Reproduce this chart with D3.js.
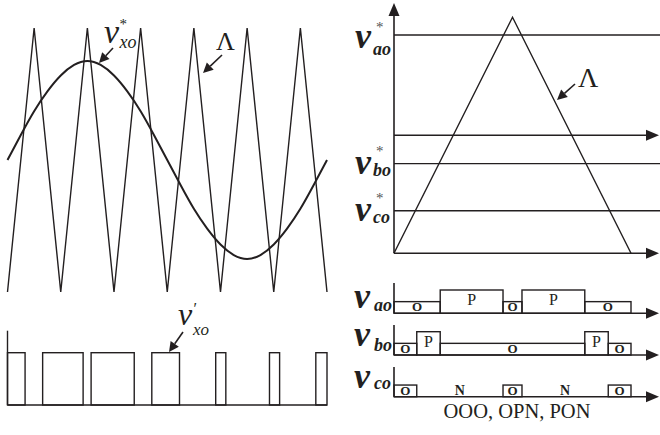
<!DOCTYPE html>
<html>
<head>
<meta charset="utf-8">
<script src="https://cdn.jsdelivr.net/npm/d3@7"></script>
<style>
  body { margin: 0; background: #fff; }
  text { font-family: "Liberation Serif", "Times New Roman", serif; fill: #231f20; }
</style>
</head>
<body>
<svg width="660" height="435"></svg>
<script>
// ---- left: carrier vs. reference (time in carrier periods, per-unit values)
const carrierT = [0, 0.5, 1, 1.5, 2, 2.5, 3, 3.5, 4, 4.5, 5, 5.5, 6];
const carrierV = [-1, 1, -1, 1, -1, 1, -1, 1, -1, 1, -1, 1, -1];
const refT = [0, 0.25, 0.5, 0.75, 1, 1.25, 1.5, 1.75, 2, 2.25, 2.5, 2.75, 3,
              3.25, 3.5, 3.75, 4, 4.25, 4.5, 4.75, 5, 5.25, 5.5, 5.75, 6];
const refV = [0, 0.19, 0.37, 0.52, 0.64, 0.72, 0.75, 0.72, 0.64, 0.52, 0.37, 0.19, 0,
              -0.19, -0.37, -0.52, -0.64, -0.72, -0.75, -0.72, -0.64, -0.52, -0.37, -0.19, 0];
// switched output pulses
const pulseOn = [0, 0.66, 1.57, 2.71, 3.91, 4.92, 5.79];
const pulseOff = [0.33, 1.42, 2.38, 3.23, 4.10, 5.11, 6.0];

// ---- right: one carrier period, three phase references
const triT = [0, 0.5, 1];
const triV = [0, 1, 0];
const refNames = ["ao", "bo", "co"];
const refLevels = [0.925, 0.38, 0.18];
const midLevel = 0.5;
const aEdges = [0, 0.195, 0.46, 0.54, 0.805, 1];
const aStates = ["O", "P", "O", "P", "O"];
const bEdges = [0, 0.096, 0.195, 0.805, 0.904, 1];
const bStates = ["O", "P", "O", "P", "O"];
const cEdges = [0, 0.096, 0.46, 0.54, 0.904, 1];
const cStates = ["O", "N", "O", "N", "O"];
const caption = "OOO, OPN, PON";

const ink = "#231f20";
const svg = d3.select("svg");

//scales
const xL = d3.scaleLinear().domain([0, 6]).range([7.5, 327]);
const yL = d3.scaleLinear().domain([-1, 1]).range([292, 28]);
const yP = d3.scaleLinear().domain([0, 1]).range([405, 352.7]);
const xR = d3.scaleLinear().domain([0, 1]).range([394, 631]);
const yR = d3.scaleLinear().domain([0, 1]).range([253.3, 17.3]);
const stateLevel = { N: 0, O: 1, P: 2 };
const yState = d3.scaleLinear().domain([0, 2]).range([0, -23.3]);

function arrowRight(g, tipX, y) {
    g.append("path")
        .attr("d", `M${tipX},${y}L${tipX - 13},${y - 5.5}L${tipX - 13},${y + 5.5}Z`)
        .attr("fill", ink);
}
function pointer(g, x1, y1, x2, y2) {
    // short arrow pointing from (x1,y1) to (x2,y2)
    const a = Math.atan2(y2 - y1, x2 - x1);
    const L = 10, W = 5;
    const bx = x2 - L * Math.cos(a), by = y2 - L * Math.sin(a);
    g.append("line").attr("x1", x1).attr("y1", y1).attr("x2", bx).attr("y2", by)
        .attr("stroke", ink).attr("stroke-width", 1.6);
    g.append("path")
        .attr("d", `M${x2},${y2}L${bx - W * Math.sin(a)},${by + W * Math.cos(a)}L${bx + W * Math.sin(a)},${by - W * Math.cos(a)}Z`)
        .attr("fill", ink);
}
// v with a superscript mark and a subscript, as one text element
function symbol(g, o) {
    const t = g.append("text").attr("font-style", "italic")
        .attr("font-weight", o.bold ? "bold" : "normal");
    t.append("tspan").attr("x", o.x).attr("y", o.y).attr("font-size", o.size).text("v");
    if (o.sup) {
        t.append("tspan").attr("x", o.supX).attr("y", o.supY)
            .attr("font-size", o.supSize).attr("font-style", "normal")
            .attr("font-weight", "normal").attr("fill", o.supFill || ink).text(o.sup);
    }
    t.append("tspan").attr("x", o.subX).attr("y", o.subY).attr("font-size", o.subSize).text(o.sub);
}

// ===== left top: triangle carrier + sine reference
const left = svg.append("g");
const carrierLine = d3.line().x((d, i) => xL(carrierT[i])).y((d) => yL(d));
left.append("path")
    .attr("d", carrierLine(carrierV))
    .attr("fill", "none").attr("stroke", ink).attr("stroke-width", 1.4);

const refLine = d3.line().x((d, i) => xL(refT[i])).y((d) => yL(d)).curve(d3.curveNatural);
left.append("path")
    .attr("d", refLine(refV))
    .attr("fill", "none").attr("stroke", ink).attr("stroke-width", 2);

symbol(left, { x: 104, y: 43, size: 34, sup: "*", supX: 119.5, supY: 29, supSize: 15,
               sub: "xo", subX: 119.5, subY: 48, subSize: 18 });
pointer(left, 113, 48, 99, 63);

left.append("text").attr("x", 216).attr("y", 50).attr("font-size", 26).text("Λ");
pointer(left, 222, 55, 203, 73);

// ===== left bottom: pulse train
const pulse = svg.append("g");
pulse.append("line").attr("x1", xL(0)).attr("x2", xL(0))
    .attr("y1", 330.7).attr("y2", yP(0)).attr("stroke", ink).attr("stroke-width", 1.4);
pulse.append("line").attr("x1", xL(0)).attr("x2", xL(6))
    .attr("y1", yP(0)).attr("y2", yP(0)).attr("stroke", ink).attr("stroke-width", 1.4);
pulse.selectAll(".pulse")
    .data(pulseOn)
    .enter()
    .append("rect")
    .attr("class", "pulse")
    .attr("x", (d) => xL(d))
    .attr("width", (d, i) => xL(pulseOff[i]) - xL(d))
    .attr("y", yP(1))
    .attr("height", yP(0) - yP(1))
    .attr("fill", "none").attr("stroke", ink).attr("stroke-width", 1.4);

symbol(pulse, { x: 178, y: 325, size: 32, sup: "′", supX: 193.5, supY: 314, supSize: 16,
                sub: "xo", subX: 193, subY: 335, subSize: 17 });
pointer(pulse, 183, 332, 169, 352);

// ===== right top: one carrier period
const right = svg.append("g");
// axes
right.append("line").attr("x1", xR(0)).attr("x2", xR(0))
    .attr("y1", 15).attr("y2", yR(0)).attr("stroke", ink).attr("stroke-width", 1.6);
right.append("path")
    .attr("d", `M${xR(0)},3L${xR(0) - 5.5},16L${xR(0) + 5.5},16Z`).attr("fill", ink);
right.append("line").attr("x1", xR(0)).attr("x2", 648)
    .attr("y1", yR(0)).attr("y2", yR(0)).attr("stroke", ink).attr("stroke-width", 1.6);
arrowRight(right, 659, yR(0));
right.append("line").attr("x1", xR(0)).attr("x2", 648)
    .attr("y1", yR(midLevel)).attr("y2", yR(midLevel)).attr("stroke", ink).attr("stroke-width", 1.6);
arrowRight(right, 659, yR(midLevel));

right.selectAll(".refline")
    .data(refLevels)
    .enter()
    .append("line")
    .attr("class", "refline")
    .attr("x1", xR(0)).attr("x2", 660)
    .attr("y1", (d) => yR(d)).attr("y2", (d) => yR(d))
    .attr("stroke", ink).attr("stroke-width", 1.4);

const triLine = d3.line().x((d, i) => xR(triT[i])).y((d) => yR(d));
right.append("path")
    .attr("d", triLine(triV))
    .attr("fill", "none").attr("stroke", ink).attr("stroke-width", 1.4);

right.append("text").attr("x", 578).attr("y", 87).attr("font-size", 28).text("Λ");
pointer(right, 575, 84, 557, 100);

// reference labels
refNames.forEach(function (name, i) {
    const y0 = yR(refLevels[i]);
    symbol(right, { bold: true, x: 355, y: y0 + (i === 0 ? 13 : 10), size: 36,
                    sup: "*", supX: 376, supY: y0 + (i === 0 ? -3 : -8), supSize: 15, supFill: "#555",
                    sub: name, subX: 373, subY: y0 + (i === 0 ? 20 : 12), subSize: 18 });
});

// ===== right bottom: switching states per phase
const rowBase = [313.3, 355, 396.7];
const rowTop = [283, 325, 367];
const rowEdges = [aEdges, bEdges, cEdges];
const rowStates = [aStates, bStates, cStates];

const rows = svg.selectAll(".row")
    .data(refNames)
    .enter()
    .append("g")
    .attr("class", "row")
    .attr("transform", (d, i) => `translate(0,${rowBase[i]})`);

rows.append("line").attr("x1", xR(0)).attr("x2", xR(0))
    .attr("y1", (d, i) => rowTop[i] - rowBase[i]).attr("y2", 0)
    .attr("stroke", ink).attr("stroke-width", 1.6);
rows.append("line").attr("x1", xR(0)).attr("x2", 648)
    .attr("y1", 0).attr("y2", 0).attr("stroke", ink).attr("stroke-width", 1.6);
rows.each(function () { arrowRight(d3.select(this), 659, 0); });

rows.each(function (name, r) {
    const g = d3.select(this);
    const edges = rowEdges[r];
    const states = rowStates[r];
    states.forEach(function (s, i) {
        const x0 = xR(edges[i]), x1 = xR(edges[i + 1]);
        if (stateLevel[s] > 0) {
            g.append("rect")
                .attr("x", x0).attr("width", x1 - x0)
                .attr("y", yState(stateLevel[s])).attr("height", -yState(stateLevel[s]))
                .attr("fill", "none").attr("stroke", ink).attr("stroke-width", 1.4);
        }
        const big = s === "P";
        g.append("text")
            .attr("x", (x0 + x1) / 2)
            .attr("y", big ? -8 : -2)
            .attr("text-anchor", "middle")
            .attr("font-weight", big ? "normal" : "bold")
            .attr("font-size", big ? 16 : (s === "N" ? 14 : 13))
            .text(s);
    });
    symbol(g, { bold: true, x: 354, y: r === 0 ? -5 : -9, size: 36,
                sub: name, subX: 374, subY: r === 0 ? -2 : (r === 1 ? -4 : -8), subSize: 18 });
});

svg.append("text").attr("x", 517).attr("y", 418)
    .attr("text-anchor", "middle").attr("font-size", 20.5).text(caption);
</script>
</body>
</html>
